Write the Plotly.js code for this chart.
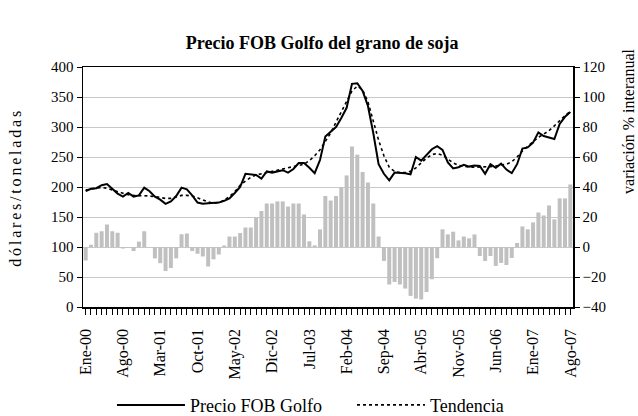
<!DOCTYPE html>
<html>
<head>
<meta charset="utf-8">
<script src="https://cdn.plot.ly/plotly-3.0.1.min.js"></script>
<style>
html,body{margin:0;padding:0;background:#fff;}
#chart{width:638px;height:416px;}
</style>
</head>
<body>
<div id="chart"></div>
<script>
// Month names and years (Ene-00 .. Ago-07)
var monthNames = ["Ene","Feb","Mar","Abr","May","Jun","Jul","Ago","Sep","Oct","Nov","Dic"];
var years = ["00","01","02","03","04","05","06","07"];

// Precio FOB Golfo (dólares/tonelada), monthly
var precio = [
  193,197,198,203,205,197,189,184,190,184,186,199,
  193,184,179,172,176,185,199,196,186,174,172,173,
  173,174,177,181,190,200,222,221,220,214,226,224,
  226,228,224,230,240,240,232,223,245,284,292,300,
  315,332,372,373,360,335,290,238,222,211,224,224,
  223,221,250,244,253,263,268,262,241,231,233,237,
  234,236,235,222,238,232,239,229,223,238,264,266,
  274,291,285,282,280,305,317,325
];

// Tendencia (dólares/tonelada)
var tendencia = [
  195,197,198,199,198,195,192,189,187,186,186,186,
  185,184,182,181,181,183,186,186,185,182,178,175,
  173,174,178,184,192,203,210,216,220,222,223,225,
  227,229,231,233,235,238,244,252,262,275,290,308,
  326,344,360,368,362,342,308,278,252,233,226,224,
  224,226,232,240,248,254,256,253,246,240,236,234,
  233,233,233,233,234,235,236,238,242,250,260,268,
  276,283,288,294,302,311,319,326
];

// Variación % interanual
var variacion = [
  -9,1.5,9.5,10.5,15,10.5,9.5,-1,-0.3,-2.7,3.6,10.5,
  0,-7.6,-10.8,-16,-14,-7.6,8.5,9,-2.7,-4.5,-6.3,-13,
  -8.2,-5,1,7,7,9.3,13,13,19.5,24,29,29,
  30.4,30.4,27,29,29,21.7,3.8,1.1,11.7,34,31,34,
  40,47.7,67,61.6,50,43,29,7,-9.3,-25,-23.3,-25,
  -27.7,-32.6,-34.4,-35,-30,-21.5,-7.5,11.8,8.4,10.2,4.4,7,
  5.8,8.4,-6,-9.3,-6,-12.6,-10.6,-12,-7.3,2.7,13.7,11.8,
  16.4,23,21,27.7,18.4,32.4,32.4,41.7
];

var categorias = [];
for (var y = 0; y < years.length; y++) {
  for (var m = 0; m < 12; m++) {
    if (categorias.length < precio.length) categorias.push(monthNames[m] + "-" + years[y]);
  }
}
var tickText = categorias.map(function(c, i){ return i % 7 === 0 ? c : ""; });

var serif = "Liberation Serif, Times New Roman, serif";

var traces = [
  {
    type: "bar", x: categorias, y: variacion, yaxis: "y2",
    marker: {color: "#c0c0c0", line: {width: 0}},
    showlegend: false, hoverinfo: "x+y"
  },
  {
    type: "scatter", mode: "lines", x: categorias, y: precio,
    name: "Precio FOB Golfo", line: {color: "#000", width: 2}, legend: "legend"
  },
  {
    type: "scatter", mode: "lines", x: categorias, y: tendencia,
    name: "Tendencia", line: {color: "#000", width: 1.6, dash: "3px,3px"}, legend: "legend2"
  }
];

var legendBase = {
  orientation: "h", xref: "container", yref: "container",
  xanchor: "left", y: 0.026, yanchor: "middle",
  font: {family: serif, size: 18, color: "#000"},
  itemwidth: 68, bgcolor: "rgba(0,0,0,0)"
};

var layout = {
  width: 638, height: 416,
  margin: {l: 83, r: 65, t: 67, b: 109},
  paper_bgcolor: "#fff", plot_bgcolor: "#fff",
  font: {family: serif, size: 15, color: "#000"},
  title: {
    text: "<b>Precio FOB Golfo del grano de soja</b>",
    font: {family: serif, size: 18, color: "#000"},
    x: 0.505, xanchor: "center", y: 0.897, yanchor: "middle", yref: "container"
  },
  bargap: 0.25,
  showlegend: true,
  legend: Object.assign({}, legendBase, {x: 0.1755}),
  legend2: Object.assign({}, legendBase, {x: 0.5517}),
  xaxis: {
    type: "category", range: [-0.5, categorias.length - 0.5],
    tickmode: "array", tickvals: categorias, ticktext: tickText,
    tickangle: -90, ticks: "outside", ticklen: 6, tickcolor: "#000", tickwidth: 1,
    ticklabelstandoff: 8,
    showline: true, linecolor: "#000", linewidth: 1.5, mirror: true,
    showgrid: false, zeroline: false,
    tickfont: {family: serif, size: 16, color: "#000"}
  },
  yaxis: {
    range: [0, 400], dtick: 50, tick0: 0,
    ticks: "outside", ticklen: 5, tickcolor: "#000",
    showline: true, linecolor: "#000", linewidth: 1.5,
    showgrid: true, gridcolor: "#c8c8c8", gridwidth: 1, zeroline: false,
    tickfont: {family: serif, size: 15, color: "#000"}
  },
  yaxis2: {
    overlaying: "y", side: "right", range: [-40, 120], dtick: 20, tick0: 0,
    ticks: "outside", ticklen: 5, tickcolor: "#000",
    showline: true, linecolor: "#000", linewidth: 1.5,
    showgrid: false, zeroline: false,
    tickfont: {family: serif, size: 15, color: "#000"}
  },
  annotations: [
    {
      text: "dólares/toneladas", xref: "paper", yref: "paper",
      x: -0.139, y: 0.5, xanchor: "center", yanchor: "middle",
      textangle: -90, showarrow: false,
      font: {family: serif, size: 16, color: "#000"}
    },
    {
      text: "variación % interanual", xref: "paper", yref: "paper",
      x: 1.112, y: 0.775, xanchor: "center", yanchor: "middle",
      textangle: -90, showarrow: false,
      font: {family: serif, size: 16, color: "#000"}
    }
  ]
};

Plotly.newPlot("chart", traces, layout, {displayModeBar: false, staticPlot: true}).then(function(gd){
  var ann = gd.querySelectorAll(".annotation-text");
  if (ann.length) ann[0].style.letterSpacing = "2.8px";
});
</script>
</body>
</html>
